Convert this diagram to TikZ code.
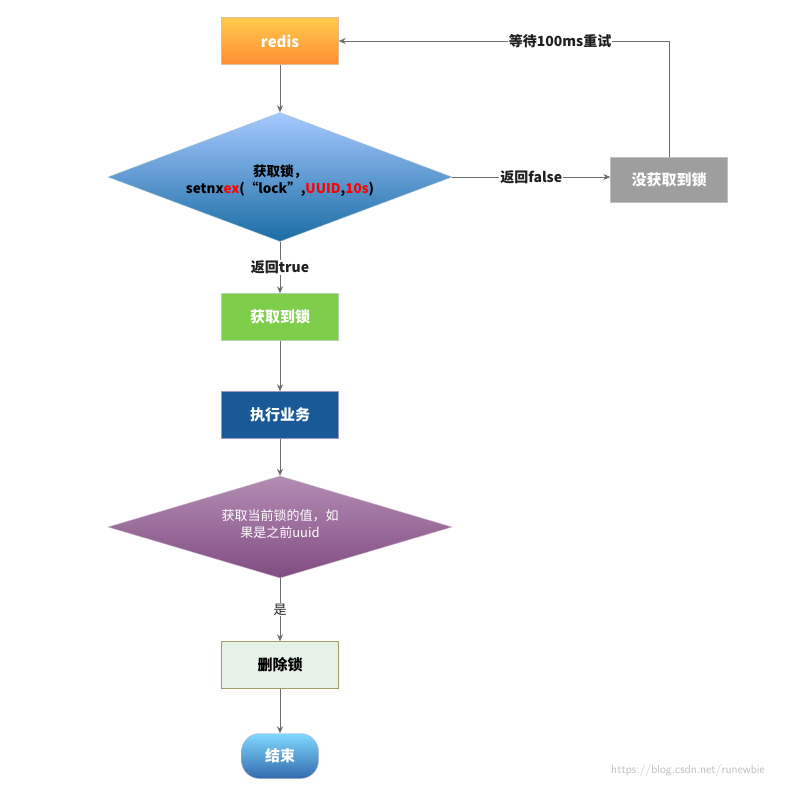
\documentclass[tikz,border=0pt]{standalone}
\usepackage{fontspec}
\setmainfont{Noto Sans CJK SC}
\newfontfamily\cjk{Noto Sans CJK SC}
\setmonofont{Liberation Mono}
\usetikzlibrary{shapes.geometric,arrows.meta}
\definecolor{txtdark}{HTML}{202020}
\definecolor{lineg}{HTML}{6E6E6E}
\begin{document}
\begin{tikzpicture}[x=1pt,y=-1pt,
  box/.style={rectangle,minimum width=117pt,minimum height=47pt,inner sep=0pt,font=\cjk\bfseries\fontsize{15}{15}\selectfont,text=white},
  dia/.style={diamond,minimum width=344pt,minimum height=129pt,inner sep=0pt},
  conn/.style={draw=lineg,line width=0.8pt,-{Stealth[length=7pt,width=6pt]}},
  lab/.style={fill=white,inner sep=1pt,font=\cjk\bfseries\fontsize{14}{14}\selectfont,text=txtdark}]
\fill[white] (0,0) rectangle (802,788);
\useasboundingbox (0,0) rectangle (802,788);
\node[box,top color=orange!60!yellow!70!white,bottom color=orange!90!red!80!white,draw=orange!70!black!40] (redis) at (280,41) {redis};
\node[dia,top color=cyan!40!blue!35!white,bottom color=cyan!60!blue!60!black!90!white,draw=cyan!50!black!40] (d1) at (280,177) {};
\node[align=center,font=\cjk\bfseries\fontsize{13.5}{17}\selectfont,text=black] at (280,181) {获取锁，\\setnx\textcolor{red}{ex}(“lock”,\textcolor{red}{UUID},\textcolor{red}{10s})};
\node[box,minimum height=45pt,fill=black!38,draw=black!25] (nolock) at (669,180) {没获取到锁};
\node[box,fill=green!45!olive!70!white,draw=green!40!black!30] (get) at (280,317) {获取到锁};
\node[box,fill=blue!50!cyan!55!black!90,draw=blue!40!black!40] (exec) at (280,415) {执行业务};
\node[dia,minimum height=102pt,top color=violet!35!white!85!black,bottom color=violet!60!black!70!white,draw=violet!50!black!30] (d2) at (280,527) {};
\node[align=center,font=\cjk\fontsize{13}{17}\selectfont,text=white] at (280,524) {获取当前锁的值，如\\果是之前uuid};
\node[box,fill=green!5!white!95!black,draw=olive!60!black!60,text=black] (del) at (280,665) {删除锁};
\node[box,minimum width=77pt,minimum height=45pt,rounded corners=18pt,top color=blue!30!cyan!50!white,bottom color=blue!55!cyan!60!black!80!white,draw=blue!40!black!30] (end) at (280,756) {结束};
\coordinate (corner) at (669,41);
\draw[conn] (redis) -- (d1);
\draw[conn] (d1) -- node[lab]{返回true} (get);
\draw[conn] (get) -- (exec);
\draw[conn] (exec) -- (d2);
\draw[conn] (d2) -- node[lab,font=\cjk\fontsize{13}{13}\selectfont]{是} (del);
\draw[conn] (del) -- (end);
\draw[conn] (d1.east) -- node[lab]{返回false} (nolock.west |- d1.east);
\draw[conn] (nolock.north) -- (corner) -- node[lab,pos=0.33]{等待100ms重试} (redis.east);
\node[text=black!25,font=\sffamily\fontsize{12}{12}\selectfont] (wm) at (688,770) {https://blog.csdn.net/runewbie};
\end{tikzpicture}
\end{document}
